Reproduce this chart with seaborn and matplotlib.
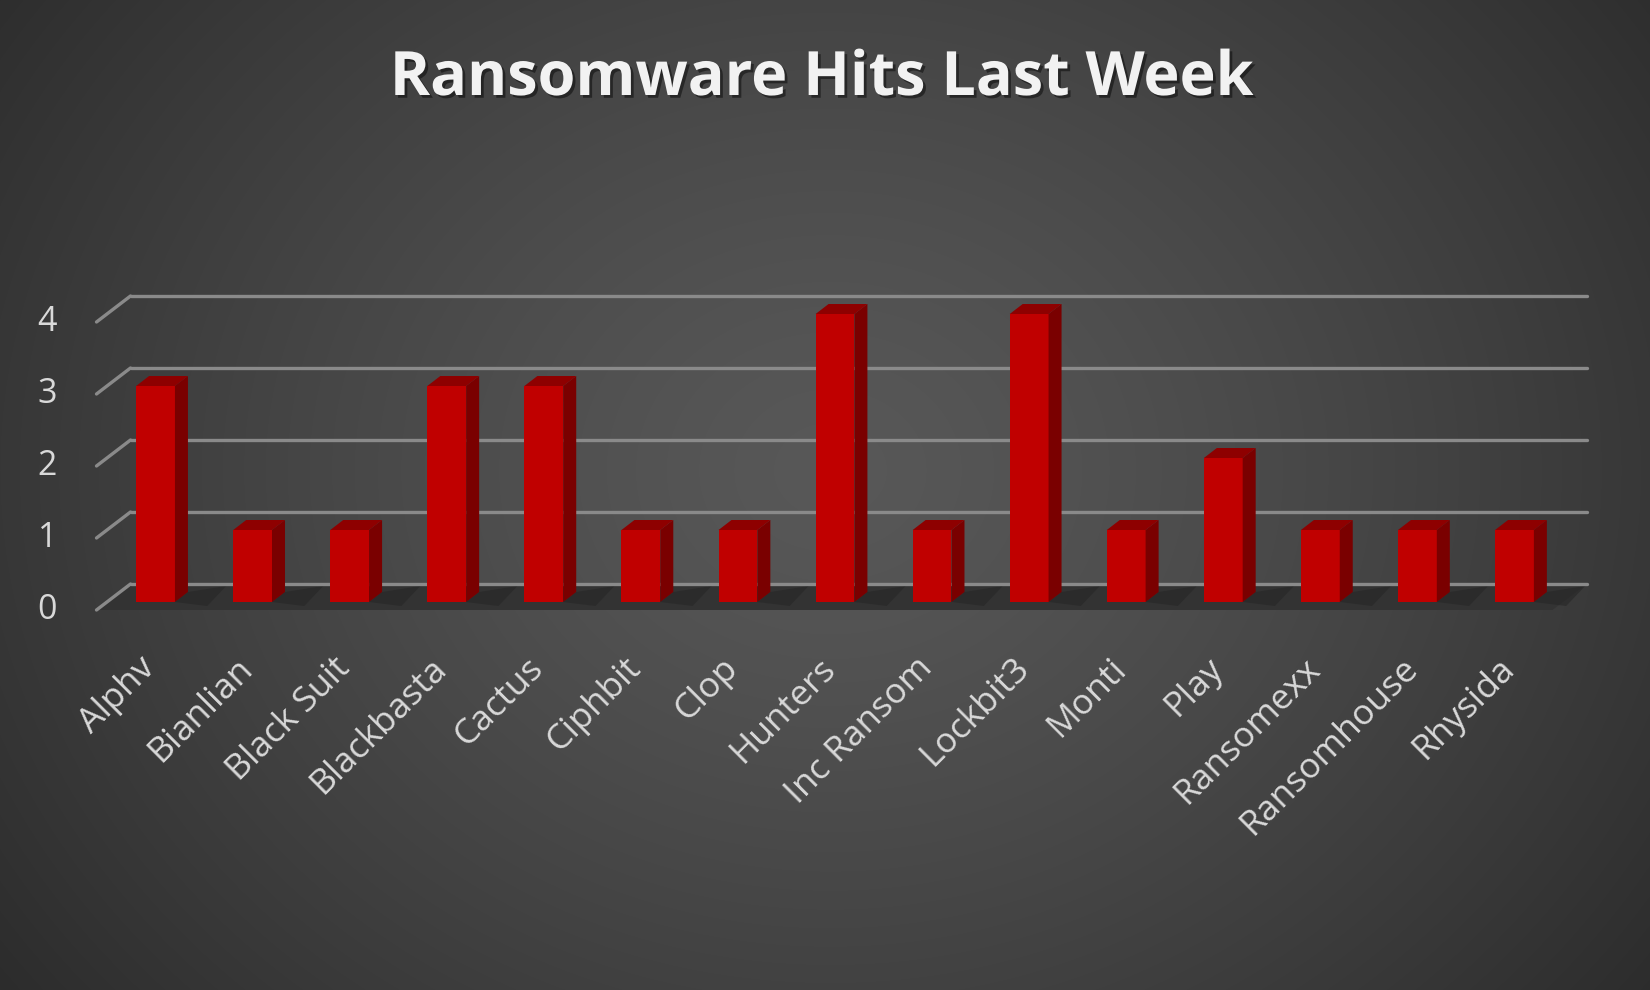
import numpy as np
import pandas as pd
import matplotlib
matplotlib.use("Agg")
import matplotlib.pyplot as plt
import seaborn as sns
from matplotlib.transforms import ScaledTranslation, IdentityTransform
from matplotlib.patches import Polygon
from matplotlib.lines import Line2D
from matplotlib import patheffects as pe

# ---- data ----
groups = ["Alphv", "Bianlian", "Black Suit", "Blackbasta", "Cactus", "Ciphbit",
          "Clop", "Hunters", "Inc Ransom", "Lockbit3", "Monti", "Play",
          "Ransomexx", "Ransomhouse", "Rhysida"]
hits = [3, 1, 1, 3, 3, 1, 1, 4, 1, 4, 1, 2, 1, 1, 1]
y_ticks = [0, 1, 2, 3, 4]
title = "Ransomware Hits Last Week"

# ---- figure setup ----
DPI = 100
FW, FH = 1650, 990
sns.set_theme(style="white")
plt.rcParams["font.family"] = ["Open Sans", "DejaVu Sans"]

fig = plt.figure(figsize=(FW / DPI, FH / DPI), dpi=DPI)

# radial grey background
bg = fig.add_axes([0, 0, 1, 1], zorder=-10)
yy, xx = np.mgrid[0:FH, 0:FW]
r = np.sqrt(((xx - 830) / 830) ** 2 + ((yy - 470) / 700) ** 2)
shade = np.clip((88 - 33 * r ** 1.3) / 255, 0, 1)
bg.imshow(np.dstack([shade, shade, shade]), aspect="auto",
          extent=[0, 1, 0, 1], origin="upper")
bg.set_axis_off()

# front plane of the bars
left, right, bottom, top = 107, 1563, 602, 314
ax = fig.add_axes([left / FW, (FH - bottom) / FH,
                   (right - left) / FW, (bottom - top) / FH])
ax.set_facecolor("none")

df = pd.DataFrame({"group": groups, "hits": hits})
sns.barplot(data=df, x="group", y="hits", color="#C00000", saturation=1,
            width=0.4, linewidth=0, ax=ax, zorder=5)
ax.set_xlim(-0.5, len(groups) - 0.5)
ax.set_ylim(0, 4)
for s in ax.spines.values():
    s.set_visible(False)
ax.set_xlabel("")
ax.set_ylabel("")
ax.set_yticks([])

def px_shift(dx, dy):
    return ax.transData + ScaledTranslation(dx / DPI, dy / DPI, fig.dpi_scale_trans)

back = (23.5, 18)      # wall offset behind the bar plane
front = (-10.5, -8)    # floor front edge in front of the bar plane
depth = (13, 10)       # bar depth

def disp(x, y, off=(0, 0)):
    p = ax.transData.transform((x, y))
    return (p[0] + off[0], p[1] + off[1])

x0, x1 = -0.5, len(groups) - 0.5

# floor
floor = Polygon([disp(x0, 0, front), disp(x1, 0, front),
                 disp(x1, 0, back), disp(x0, 0, back)],
                closed=True, transform=IdentityTransform(),
                facecolor="#333333", edgecolor="none", zorder=1, clip_on=False)
ax.add_patch(floor)

# bar shadows on the floor
for i, v in enumerate(hits):
    xb = i + 0.2
    sh = Polygon([disp(xb, 0, (0, 0)), disp(xb, 0, depth),
                  disp(xb + 0.25, 0, (depth[0] + 14, depth[1] + 6)),
                  disp(xb + 0.25, 0, (8, -4))],
                 closed=True, transform=IdentityTransform(),
                 facecolor="#262626", edgecolor="none", alpha=0.6,
                 zorder=1.5, clip_on=False)
    ax.add_patch(sh)

# gridlines on the back wall plus their diagonals along the side
grid_col = "#8a8a8a"
for v in y_ticks:
    ax.plot([x0, x1], [v, v], transform=px_shift(*back), color=grid_col,
            lw=2.4, solid_capstyle="round", clip_on=False, zorder=2)
    a = disp(x0, v, front)
    b = disp(x0, v, back)
    ax.add_line(Line2D([a[0], b[0]], [a[1], b[1]], transform=IdentityTransform(),
                       color=grid_col, lw=2.4, solid_capstyle="round",
                       clip_on=False, zorder=2))
    ax.text(x0, v, str(v), transform=px_shift(-50, -8), ha="right", va="center",
            fontsize=24.5, color="#d9d9d9")

# side and top faces of each bar
for p in list(ax.patches):
    if p.zorder != 5 or p.get_width() == 0:
        continue
    bx, by, bw, bh = p.get_x(), p.get_y(), p.get_width(), p.get_height()
    br = disp(bx + bw, by)
    tr = disp(bx + bw, by + bh)
    tl = disp(bx, by + bh)
    side = Polygon([br, (br[0] + depth[0], br[1] + depth[1]),
                    (tr[0] + depth[0], tr[1] + depth[1]), tr],
                   closed=True, transform=IdentityTransform(),
                   facecolor="#7a0000", edgecolor="none", zorder=5, clip_on=False)
    topf = Polygon([tl, tr, (tr[0] + depth[0], tr[1] + depth[1]),
                    (tl[0] + depth[0], tl[1] + depth[1])],
                   closed=True, transform=IdentityTransform(),
                   facecolor="#8e0000", edgecolor="none", zorder=5, clip_on=False)
    ax.add_patch(side)
    ax.add_patch(topf)
ax.set_xlim(x0, x1)
ax.set_ylim(0, 4)

# category labels
ax.set_xticks(range(len(groups)))
ax.set_xticklabels(groups, rotation=45, ha="right", va="center",
                   rotation_mode="anchor", fontsize=25.5, color="#d9d9d9")
ax.tick_params(axis="x", length=0, pad=44)
nudge = ScaledTranslation(-5 / DPI, 0, fig.dpi_scale_trans)
for lbl in ax.get_xticklabels():
    lbl.set_transform(lbl.get_transform() + nudge)

# title
fig.text(822 / FW, 1 - 95 / FH, title, ha="center", va="baseline",
         fontsize=44, fontweight="bold", color="#f2f2f2",
         path_effects=[pe.withSimplePatchShadow(offset=(2, -2),
                                                shadow_rgbFace="black", alpha=0.45)])

fig.savefig("out.png", dpi=DPI)
